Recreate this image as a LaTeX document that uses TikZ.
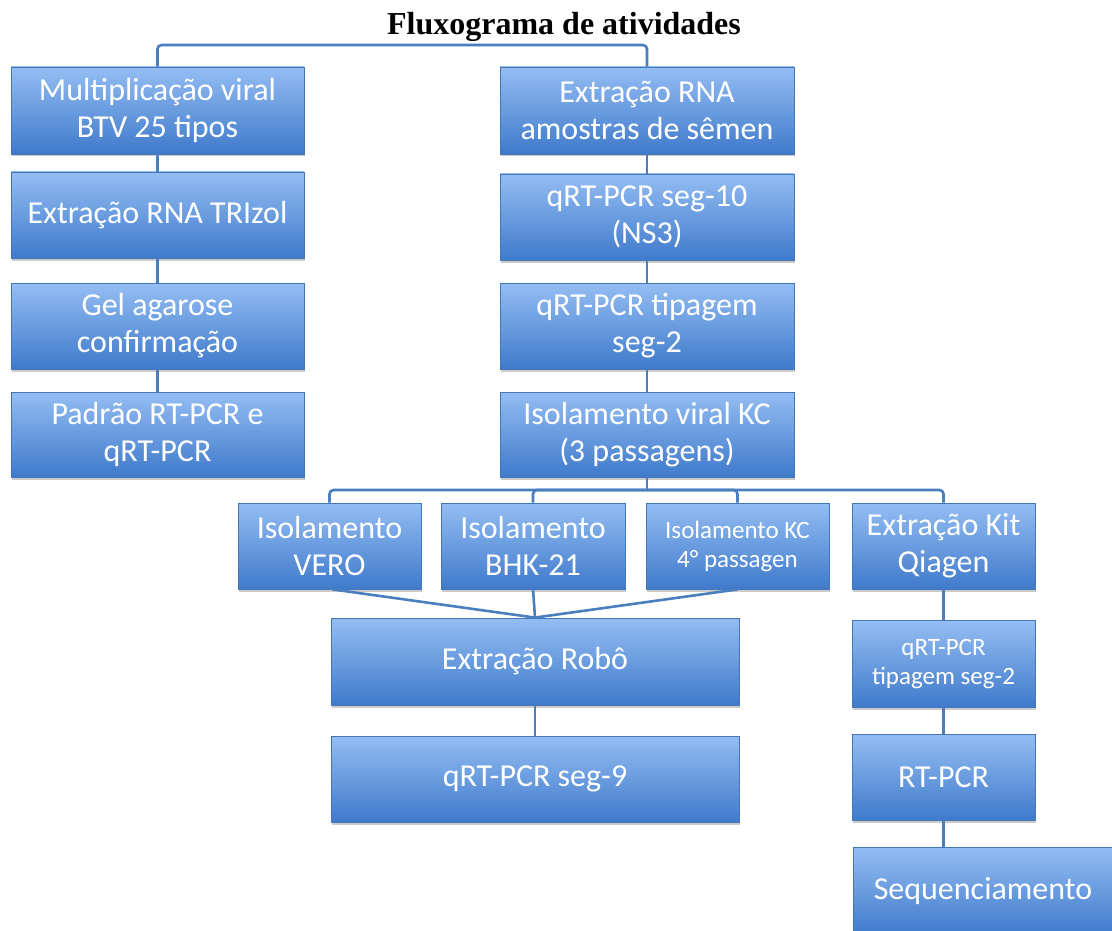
\documentclass[tikz,border=0pt]{standalone}
\usepackage{fontspec}
\setmainfont{Carlito}
\newfontfamily\titlefont{Liberation Serif}
\usetikzlibrary{shadows}
\definecolor{linec}{HTML}{4A7EBF}
\definecolor{boxtop}{HTML}{94BDF3}
\definecolor{boxbot}{HTML}{3F7ACB}
\definecolor{boxedge}{HTML}{4476BA}
\tikzset{
  stepbox/.style={draw=boxedge, line width=0.8pt, top color=boxtop, bottom color=boxbot,
    text=white, align=center, inner sep=0pt, font=\fontsize{32}{37}\selectfont,
    drop shadow={shadow xshift=1pt, shadow yshift=-2.5pt, opacity=0.35, fill=black!60}},
  smallbox/.style={stepbox, font=\fontsize{25}{29}\selectfont},
  conn/.style={draw=linec, line width=2.6pt, rounded corners=4pt},
}
\begin{document}
\begin{tikzpicture}[x=1pt,y=-1pt]
\useasboundingbox (0,0) rectangle (1112,931);
\node[font=\titlefont\bfseries\fontsize{32}{36}\selectfont] (title) at (564,27) {Fluxograma de atividades};
% left column
\node[stepbox, minimum width=293pt, minimum height=87pt] (b1) at (157.5,110.5) {Multiplicação viral\\BTV 25 tipos};
\node[stepbox, minimum width=293pt, minimum height=86pt] (b2) at (157.5,215) {Extração RNA TRIzol};
\node[stepbox, minimum width=293pt, minimum height=86pt] (b3) at (157.5,326) {Gel agarose\\confirmação};
\node[stepbox, minimum width=293pt, minimum height=85pt] (b4) at (157.5,434.5) {Padrão RT-PCR e\\qRT-PCR};
% right column
\node[stepbox, minimum width=294pt, minimum height=87pt] (r1) at (647,110.5) {Extração RNA\\amostras de sêmen};
\node[stepbox, minimum width=294pt, minimum height=86pt] (r2) at (647,217) {qRT-PCR seg-10\\(NS3)};
\node[stepbox, minimum width=294pt, minimum height=86pt] (r3) at (647,326) {qRT-PCR tipagem\\seg-2};
\node[stepbox, minimum width=294pt, minimum height=85pt] (r4) at (647,434.5) {Isolamento viral KC\\(3 passagens)};
% row 5
\node[stepbox, minimum width=183pt, minimum height=86pt] (vero) at (329.5,546) {Isolamento\\VERO};
\node[stepbox, minimum width=184pt, minimum height=86pt] (bhk) at (533,546) {Isolamento\\BHK-21};
\node[smallbox, minimum width=183pt, minimum height=86pt] (kc) at (737.5,546) {Isolamento KC\\4° passagen};
\node[stepbox, minimum width=183pt, minimum height=86pt] (qiagen) at (943.5,546) {Extração Kit\\Qiagen};
% lower
\node[stepbox, minimum width=408pt, minimum height=87pt] (robo) at (535,661.5) {Extração Robô};
\node[stepbox, minimum width=408pt, minimum height=86pt] (seg9) at (535,779) {qRT-PCR seg-9};
\node[smallbox, minimum width=183pt, minimum height=87pt] (qtip) at (943.5,664) {qRT-PCR\\tipagem seg-2};
\node[stepbox, minimum width=183pt, minimum height=86pt] (rtpcr) at (943.5,777) {RT-PCR};
\node[stepbox, minimum width=260pt, minimum height=88pt] (seq) at (983,891) {Sequenciamento};
% connectors
\coordinate (top) at (400,45);
\coordinate (bus) at (647,490);
\draw[conn] (b1.north) |- (top) -| (r1.north);
\draw[conn] (b1.south) -- (b2.north);
\draw[conn] (b2.south) -- (b3.north);
\draw[conn] (b3.south) -- (b4.north);
\draw[conn] (r1.south) -- (r2.north);
\draw[conn] (r2.south) -- (r3.north);
\draw[conn] (r3.south) -- (r4.north);
\draw[conn] (r4.south) -- (bus);
\draw[conn] (vero.north) |- (bus);
\draw[conn] (bhk.north) |- (bus);
\draw[conn] (kc.north) |- (bus);
\draw[conn] (qiagen.north) |- (bus);
\draw[conn] ([xshift=3pt]vero.south) -- (robo.north);
\draw[conn] (bhk.south) -- (robo.north);
\draw[conn] (kc.south) -- (robo.north);
\draw[conn] (robo.south) -- (seg9.north);
\draw[conn] (qiagen.south) -- (qtip.north);
\draw[conn] (qtip.south) -- (rtpcr.north);
\draw[conn] (rtpcr.south) -- (qiagen.south |- seq.north);
\end{tikzpicture}
\end{document}
